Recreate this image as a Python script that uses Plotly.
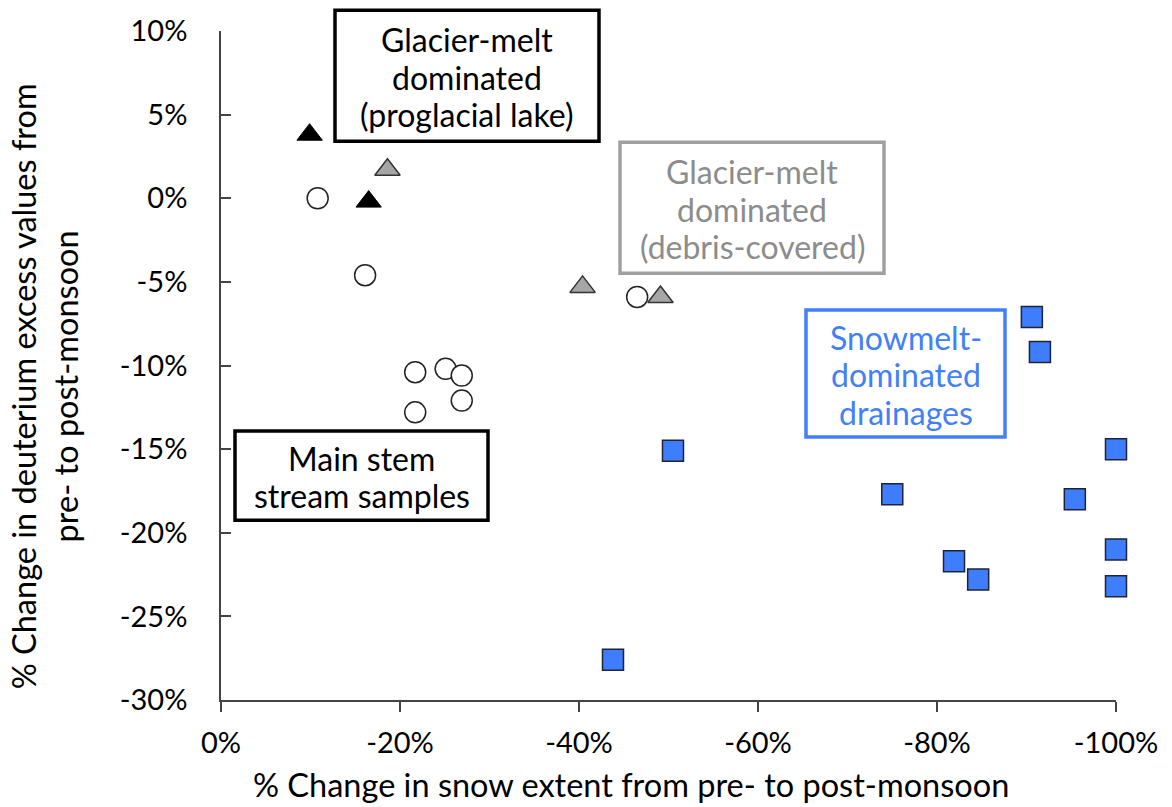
import plotly.graph_objects as go

# % change in snow extent (x) and % change in deuterium excess (y)
main_stem_x = [-10.8, -16.1, -21.7, -25.1, -26.9, -26.9, -21.7, -46.5]
main_stem_y = [0.0, -4.6, -10.4, -10.2, -10.6, -12.1, -12.8, -5.9]

proglacial_x = [-9.9, -16.5]
proglacial_y = [3.8, -0.2]

debris_x = [-18.6, -40.4, -49.1]
debris_y = [1.7, -5.3, -5.9]

snowmelt_x = [-90.6, -91.5, -100.0, -75.0, -95.4, -81.9, -84.6, -100.0, -100.0, -50.5, -43.8]
snowmelt_y = [-7.1, -9.2, -15.0, -17.7, -18.0, -21.7, -22.8, -21.0, -23.2, -15.1, -27.6]

x_ticks = [0, -20, -40, -60, -80, -100]
x_tick_labels = ["0%", "-20%", "-40%", "-60%", "-80%", "-100%"]
y_ticks = [10, 5, 0, -5, -10, -15, -20, -25, -30]
y_tick_labels = ["10%", "5%", "0%", "-5%", "-10%", "-15%", "-20%", "-25%", "-30%"]

FONT = "Lato"
BLUE = "#4280FA"
GRAY_TEXT = "#8C8C8C"
GRAY_BORDER = "#A0A0A0"

fig = go.Figure()

fig.add_trace(go.Scatter(
    x=main_stem_x, y=main_stem_y, mode="markers", name="Main stem",
    cliponaxis=False,
    marker=dict(symbol="circle", size=21, color="white",
                line=dict(color="#222222", width=1.5)),
))
fig.add_trace(go.Scatter(
    x=proglacial_x, y=proglacial_y, mode="markers", name="Proglacial lake",
    cliponaxis=False,
    marker=dict(symbol="triangle-up", size=22, color="black",
                line=dict(color="black", width=1)),
))
fig.add_trace(go.Scatter(
    x=debris_x, y=debris_y, mode="markers", name="Debris-covered",
    cliponaxis=False,
    marker=dict(symbol="triangle-up", size=22, color="#A6A6A6",
                line=dict(color="#333333", width=1.5)),
))
fig.add_trace(go.Scatter(
    x=snowmelt_x, y=snowmelt_y, mode="markers", name="Snowmelt",
    cliponaxis=False,
    marker=dict(symbol="square", size=21, color="#3F7DFF",
                line=dict(color="#1E2433", width=1.5)),
))

# plot area in pixels: x 221..1116, y 26..700
L, R, T, B = 221, 1116, 26, 700


def px(xp):
    return (xp - L) / (R - L)


def py(yp):
    return (B - yp) / (B - T)


LINE_GAP = 37.5

boxes = [
    dict(x0=335, x1=599, y0=5, y1=137, color="black",
         lines=["Glacier-melt", "dominated", "(proglacial lake)"], tcolor="black"),
    dict(x0=620, x1=884, y0=138, y1=270, color=GRAY_BORDER,
         lines=["Glacier-melt", "dominated", "(debris-covered)"], tcolor=GRAY_TEXT),
    dict(x0=806, x1=1005, y0=307, y1=435, color=BLUE,
         lines=["Snowmelt-", "dominated", "drainages"], tcolor=BLUE),
    dict(x0=235, x1=488, y0=429, y1=519, color="black",
         lines=["Main stem", "stream samples"], tcolor="black"),
]

for b in boxes:
    fig.add_shape(type="rect", xref="paper", yref="paper",
                  x0=px(b["x0"]), x1=px(b["x1"]), y0=py(b["y1"]), y1=py(b["y0"]),
                  line=dict(color=b["color"], width=3.5), fillcolor="white", layer="below")
    cx = (b["x0"] + b["x1"]) / 2
    cy = (b["y0"] + b["y1"]) / 2 + 1.5
    n = len(b["lines"])
    for i, line in enumerate(b["lines"]):
        ly = cy + (i - (n - 1) / 2) * LINE_GAP
        fig.add_annotation(xref="paper", yref="paper", x=px(cx), y=py(ly),
                           text=line, showarrow=False,
                           xanchor="center", yanchor="middle",
                           font=dict(family=FONT, size=32, color=b["tcolor"]))

# axis titles
fig.add_annotation(xref="paper", yref="paper", x=px(631), y=py(785),
                   text="% Change in snow extent from pre- to post-monsoon",
                   showarrow=False, xanchor="center", yanchor="middle",
                   font=dict(family=FONT, size=32.5, color="black"))
fig.add_annotation(xref="paper", yref="paper", x=px(44), y=py(384),
                   text="% Change in deuterium excess values from<br>pre- to post-monsoon",
                   showarrow=False, textangle=-90, xanchor="center", yanchor="middle",
                   font=dict(family=FONT, size=32.5, color="black"))

fig.update_layout(
    width=1172, height=807,
    margin=dict(l=L, r=1172 - R, t=T, b=807 - B),
    plot_bgcolor="white", paper_bgcolor="white",
    showlegend=False,
    font=dict(family=FONT, size=29, color="black"),
    xaxis=dict(range=[0, -100], tickmode="array", tickvals=x_ticks, ticktext=x_tick_labels,
               showgrid=False, zeroline=False, showline=True,
               linecolor="#444444", linewidth=1.5,
               ticks="outside", ticklen=10, tickwidth=1.5, tickcolor="#444444",
               ticklabelstandoff=6,
               tickfont=dict(family=FONT, size=29, color="black")),
    yaxis=dict(range=[-30, 10], tickmode="array", tickvals=y_ticks, ticktext=y_tick_labels,
               showgrid=False, zeroline=False, showline=True,
               linecolor="#444444", linewidth=1.5,
               ticks="inside", ticklen=10, tickwidth=1.5, tickcolor="#444444",
               ticklabelstandoff=26,
               tickfont=dict(family=FONT, size=29, color="black")),
)

fig.write_html("out.html")
